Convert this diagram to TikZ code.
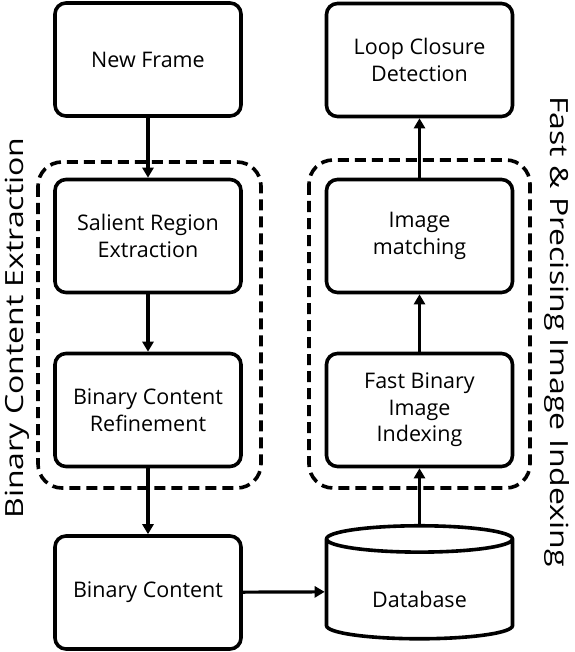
\documentclass[tikz,border=0pt]{standalone}
\usepackage{fontspec}
\setmainfont{Open Sans}
\usepackage{tikz}
\usetikzlibrary{positioning, arrows.meta, shapes.geometric}
\newcommand{\colL}{148}
\newcommand{\colR}{419.5}
\newcommand{\boxw}{186}
\newcommand{\boxh}{113}
\newcommand{\widetext}[1]{\scalebox{1.28}[1]{#1}}
\tikzset{
  % --- nodes ---
  stage/.style     = {rounded corners=11pt, draw=black, line width=3.6pt,
                      align=center, inner sep=2pt, font=\fontsize{21.5}{26.5}\selectfont,
                      minimum width=\boxw pt, minimum height=\boxh pt},
  store/.style     = {cylinder, shape border rotate=90, aspect=0.26,
                      draw=black, line width=3.6pt, font=\fontsize{21.5}{26.5}\selectfont,
                      minimum width=\boxw pt, minimum height=\boxh pt},
  group/.style     = {rounded corners=24pt, draw=black, line width=3.6pt,
                      dash pattern=on 11pt off 6pt},
  grouplabel/.style= {font=\fontsize{25}{30}\selectfont, inner sep=0pt},
  % --- edges ---
  flow/.style      = {-{Triangle[length=10pt, width=11pt]}, line width=3.2pt, black},
}
\begin{document}
\begin{tikzpicture}[x=1pt, y=-1pt]
  \useasboundingbox (0,0) rectangle (574,652);

  % ===================================================================
  %  GROUP FRAMES (dashed)
  % ===================================================================
  \draw[group] (38,162) rectangle (261,488);
  \draw[group] (309,160) rectangle (530,488);

  % ===================================================================
  %  LEFT COLUMN (extraction)
  % ===================================================================
  \node[stage] (nf)  at (\colL, 59.5)  {New Frame};
  \node[stage] (sre) at (\colL, 236)   {Salient Region\\Extraction};
  \node[stage] (bcr) at (\colL, 410)   {Binary Content\\Refinement};
  \node[stage] (bc)  at (\colL, 592.5) {Binary Content};

  % ===================================================================
  %  RIGHT COLUMN (indexing)
  % ===================================================================
  \node[store] (db)  at (\colR, 591.5) {\raisebox{-8pt}[\height][\depth]{Database}};
  \node[stage] (fbi) at (\colR, 410)   {Fast Binary\\Image\\Indexing};
  \node[stage] (im)  at (\colR, 236)   {Image\\matching};
  \node[stage] (lcd) at (\colR, 60)    {Loop Closure\\Detection};

  % ===================================================================
  %  SIGNAL PATH
  % ===================================================================
  \draw[flow] (nf)  -- (sre);
  \draw[flow] (sre) -- (bcr);
  \draw[flow] (bcr) -- (bc);
  \draw[flow] (bc)  -- (db);
  \draw[flow] (db)  -- (fbi);
  \draw[flow] (fbi) -- (im);
  \draw[flow] (im)  -- (lcd);

  % ===================================================================
  %  GROUP LABELS
  % ===================================================================
  \node[grouplabel, rotate=90]  (lext) at (17, 328)    {\widetext{Binary Content Extraction}};
  \node[grouplabel, rotate=-90] (lidx) at (557, 331.5) {\widetext{Fast \& Precising Image Indexing}};

\end{tikzpicture}
\end{document}
